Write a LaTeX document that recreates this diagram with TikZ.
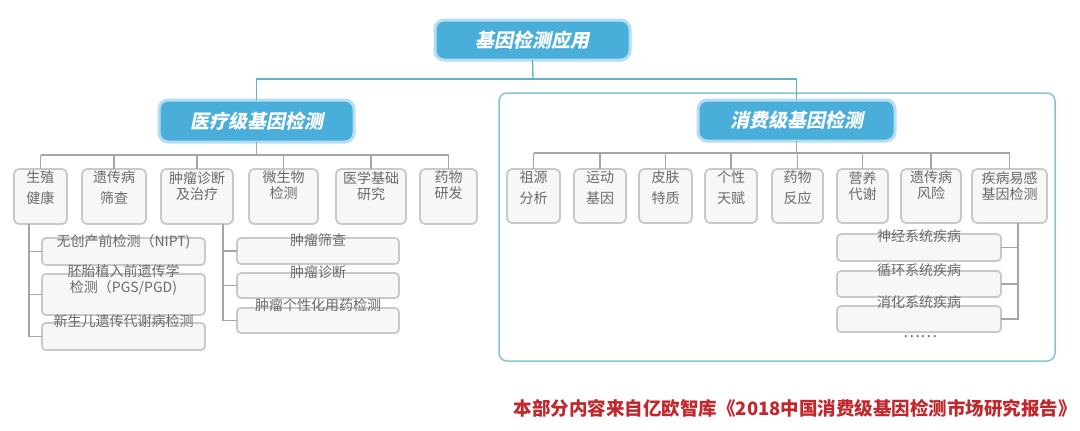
\documentclass[tikz,border=0pt]{standalone}
\usepackage{fontspec}
\setmainfont{Noto Sans CJK SC}
\newfontfamily\titlefont{Noto Sans CJK SC}[FakeSlant=0.2]
\usetikzlibrary{calc}
\definecolor{tblue}{HTML}{4AAEDA}
\definecolor{tglow}{HTML}{B5DEF2}
\definecolor{lblue}{HTML}{62AECB}
\definecolor{framec}{HTML}{86C3D6}
\definecolor{bgray}{HTML}{C9C9C9}
\definecolor{bfill}{HTML}{F7F7F7}
\definecolor{lgray}{HTML}{A6A6A6}
\definecolor{tgray}{HTML}{6A6A6A}
\definecolor{fred}{HTML}{C1272D}
\newcommand\placebox[6]{\node[#1, anchor=north west, minimum width={#5-#3}, minimum height={#6-#4}] (#2) at (#3,#4) {};}
\begin{document}
\begin{tikzpicture}[x=1pt,y=-1pt,
  titlebox/.style={draw=tglow, line width=3pt, fill=tblue, rounded corners=9pt, text=white,
    font=\titlefont\fontsize{19}{22}\selectfont\bfseries, inner sep=0pt, outer sep=0pt},
  framebox/.style={draw=framec, line width=1.5pt, rounded corners=8pt, inner sep=0pt, outer sep=0pt},
  childbox/.style={draw=bgray, line width=1.8pt, fill=bfill, rounded corners=5pt, inner sep=0pt, outer sep=0pt},
  subbox/.style={draw=bgray, line width=1.8pt, fill=bfill, rounded corners=4pt, inner sep=0pt, outer sep=0pt},
  loosetext/.style={text=tgray, align=center, inner sep=0pt, anchor=north, font=\fontsize{14}{21}\selectfont},
  tighttext/.style={text=tgray, align=center, inner sep=0pt, anchor=north, font=\fontsize{14}{16}\selectfont},
  subtext/.style={text=tgray, align=center, inner sep=0pt, font=\fontsize{14}{16}\selectfont},
  blueline/.style={draw=lblue, line width=1.3pt},
  grayline/.style={draw=lgray, line width=1.2pt}
]
\useasboundingbox (0,0) rectangle (1080,431);
\fill[white] (0,0) rectangle (1080,431);

% frame of consumer group
\placebox{framebox}{fr}{499}{93}{1055}{361}

% root and group boxes
\node[titlebox, anchor=north west, minimum width=195pt, minimum height=40pt] (root) at (435,20) {基因检测应用};
\node[titlebox, anchor=north west, minimum width=195pt, minimum height=42pt] (med) at (159,100) {医疗级基因检测};
\node[titlebox, anchor=north west, minimum width=197pt, minimum height=41pt] (con) at (698,100) {消费级基因检测};

\coordinate (rj) at (533,79);
\draw[blueline] (root.south) -- (rj);
\draw[blueline] (med.north) |- (rj) -| (con.north);

% medical children
\placebox{childbox}{c1}{14}{169}{67}{224}
\placebox{childbox}{c2}{82}{169}{146}{224}
\placebox{childbox}{c3}{161}{169}{233}{224}
\placebox{childbox}{c4}{249}{169}{318}{224}
\placebox{childbox}{c5}{336}{169}{406}{224}
\placebox{childbox}{c6}{420}{169}{477}{224}
\node[loosetext] (t1) at ([yshift=-2pt]c1.north) {生殖\\健康};
\node[loosetext] (t2) at ([yshift=-2pt]c2.north) {遗传病\\筛查};
\node[tighttext] (t3) at ([yshift=-2pt]c3.north) {肿瘤诊断\\及治疗};
\node[tighttext] (t4) at ([yshift=-2pt]c4.north) {微生物\\检测};
\node[tighttext] (t5) at ([yshift=-2pt]c5.north) {医学基础\\研究};
\node[tighttext] (t6) at ([yshift=-2pt]c6.north) {药物\\研发};

\coordinate (mbus) at (0,155);
\draw[grayline] (med.south) -- (med.south |- mbus);
\draw[grayline] (c1.north |- mbus) -- (c6.north |- mbus);
\foreach \n in {c1,c2,c3,c4,c5,c6}{\draw[grayline] (\n.north) -- (\n.north |- mbus);}

% consumer children
\placebox{childbox}{d1}{507}{169}{560}{223}
\placebox{childbox}{d2}{574}{169}{626}{223}
\placebox{childbox}{d3}{639}{169}{692}{223}
\placebox{childbox}{d4}{705}{169}{757}{223}
\placebox{childbox}{d5}{772}{169}{823}{223}
\placebox{childbox}{d6}{837}{169}{888}{223}
\placebox{childbox}{d7}{901}{169}{961}{223}
\placebox{childbox}{d8}{972}{169}{1047}{223}
\node[loosetext] (u1) at ([yshift=-2pt]d1.north) {祖源\\分析};
\node[loosetext] (u2) at ([yshift=-2pt]d2.north) {运动\\基因};
\node[loosetext] (u3) at ([yshift=-2pt]d3.north) {皮肤\\特质};
\node[loosetext] (u4) at ([yshift=-2pt]d4.north) {个性\\天赋};
\node[loosetext] (u5) at ([yshift=-2pt]d5.north) {药物\\反应};
\node[tighttext] (u6) at ([yshift=-2pt]d6.north) {营养\\代谢};
\node[tighttext] (u7) at ([yshift=-2pt]d7.north) {遗传病\\风险};
\node[tighttext] (u8) at ([yshift=-2pt]d8.north) {疾病易感\\基因检测};

\coordinate (cbus) at (0,153);
\draw[grayline] (con.south) -- (con.south |- cbus);
\draw[grayline] (d1.north |- cbus) -- (d8.north |- cbus);
\foreach \n in {d1,d2,d3,d4,d5,d6,d7,d8}{\draw[grayline] (\n.north) -- (\n.north |- cbus);}

% sub items of 生殖健康
\placebox{subbox}{s1}{42}{238}{205}{265}
\placebox{subbox}{s2}{42}{274}{205}{315}
\placebox{subbox}{s3}{42}{323}{205}{350}
\node[subtext] (s1t) at ([yshift=-4pt]s1.north) {无创产前检测（NIPT)};
\node[subtext] (s2t) at ([yshift=-6pt]s2.north) {胚胎植入前遗传学\\检测（PGS/PGD)};
\node[subtext] (s3t) at ([yshift=2pt]s3.north) {新生儿遗传代谢病检测};
\coordinate (v1) at ($(c1.south west)+(15,0)$);
\foreach \n in {s1,s2,s3}{\draw[grayline] (v1) |- (\n.west);}

% sub items of 肿瘤诊断及治疗
\placebox{subbox}{m1}{237}{238}{399}{264}
\placebox{subbox}{m2}{237}{273}{399}{298}
\placebox{subbox}{m3}{237}{308}{399}{333}
\node[subtext] (m1t) at ([yshift=-2pt]m1.north) {肿瘤筛查};
\node[subtext] (m2t) at ([yshift=1pt]m2.north) {肿瘤诊断};
\node[subtext] (m3t) at ([yshift=3pt]m3.north) {肿瘤个性化用药检测};
\coordinate (v2) at ($(c3.south east)+(-10,0)$);
\foreach \n in {m1,m2,m3}{\draw[grayline] (v2) |- (\n.west);}

% sub items of 疾病易感基因检测
\placebox{subbox}{r1}{837}{234}{1001}{261}
\placebox{subbox}{r2}{837}{271}{1001}{297}
\placebox{subbox}{r3}{837}{306}{1001}{332}
\node[subtext] (r1t) at ([yshift=-2pt]r1.north) {神经系统疾病};
\node[subtext] (r2t) at ([yshift=1pt]r2.north) {循环系统疾病};
\node[subtext] (r3t) at ([yshift=4pt]r3.north) {消化系统疾病};
\coordinate (v3) at ($(d8.south)+(8.5,0)$);
\foreach \n in {r1,r2,r3}{\draw[grayline] (v3) |- (\n.east);}
\node[subtext, font=\fontsize{16}{16}\selectfont] (dots) at (920,337) {……};

% footer
\node[anchor=east, inner sep=0pt, text=fred, font=\fontsize{18.5}{20}\selectfont\bfseries] (foot) at (1077,408) {本部分内容来自亿欧智库《2018中国消费级基因检测市场研究报告》};
\end{tikzpicture}
\end{document}
